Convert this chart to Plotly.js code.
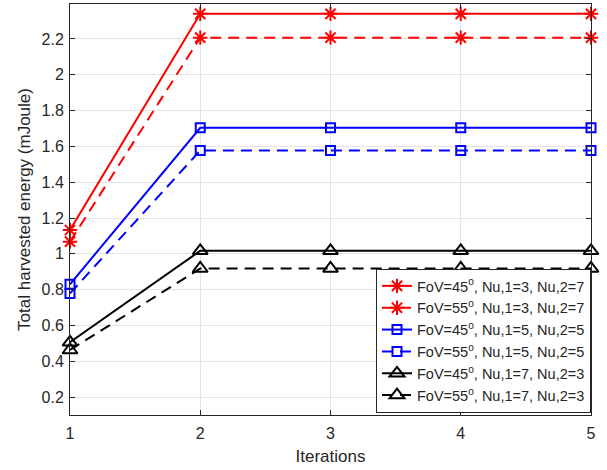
<!DOCTYPE html>
<html>
<head>
<meta charset="utf-8">
<script src="https://cdn.plot.ly/plotly-3.0.1.min.js"></script>
<style>html,body{margin:0;padding:0;background:#fff;}#chart{width:607px;height:470px;}</style>
</head>
<body>
<div id="chart"></div>
<script>
const iterations = [1, 2, 3, 4, 5];
const fov45_nu3_7 = [1.133, 2.34, 2.34, 2.34, 2.34];
const fov55_nu3_7 = [1.068, 2.207, 2.207, 2.207, 2.207];
const fov45_nu5_5 = [0.830, 1.704, 1.704, 1.704, 1.704];
const fov55_nu5_5 = [0.779, 1.577, 1.577, 1.577, 1.577];
const fov45_nu7_3 = [0.506, 1.017, 1.017, 1.017, 1.017];
const fov55_nu7_3 = [0.463, 0.918, 0.918, 0.918, 0.918];
const seriesNames = [
  'FoV=45<sup>o</sup>, Nu,1=3, Nu,2=7',
  'FoV=55<sup>o</sup>, Nu,1=3, Nu,2=7',
  'FoV=45<sup>o</sup>, Nu,1=5, Nu,2=5',
  'FoV=55<sup>o</sup>, Nu,1=5, Nu,2=5',
  'FoV=45<sup>o</sup>, Nu,1=7, Nu,2=3',
  'FoV=55<sup>o</sup>, Nu,1=7, Nu,2=3'
];
const yTicks = [0.2, 0.4, 0.6, 0.8, 1, 1.2, 1.4, 1.6, 1.8, 2, 2.2];
const yTickText = ['0.2','0.4','0.6','0.8','1','1.2','1.4','1.6','1.8','2','2.2'];

const seriesData = [fov45_nu3_7, fov55_nu3_7, fov45_nu5_5, fov55_nu5_5, fov45_nu7_3, fov55_nu7_3];
const colors = ['#ff0000','#ff0000','#0000ff','#0000ff','#000000','#000000'];
const dashes = ['solid','11px,7px','solid','11px,7px','solid','11px,7px'];
const symbols = ['asterisk-open','asterisk-open','square-open','square-open','triangle-up-open','triangle-up-open'];
const sizes = [12,12,9,9,13,13];

const traces = seriesData.map((ys, i) => ({
  x: iterations, y: ys, type: 'scatter', mode: 'lines+markers', name: seriesNames[i],
  line: {color: colors[i], width: 2, dash: dashes[i]},
  marker: {symbol: symbols[i], size: sizes[i], color: colors[i], line: {color: colors[i], width: 2}},
  cliponaxis: false
}));

const FONT = 'Liberation Sans, Arial, sans-serif';
const axisCommon = {
  showline: true, linecolor: '#262626', linewidth: 1, mirror: 'ticks',
  ticks: 'inside', ticklen: 5, tickcolor: '#262626',
  showgrid: true, gridcolor: '#e3e3e3', gridwidth: 1, zeroline: false,
  tickfont: {family: FONT, size: 16, color: '#262626'},
  automargin: false
};

const layout = {
  width: 607, height: 470,
  margin: {l: 70, r: 16, t: 4, b: 55},
  paper_bgcolor: '#fff', plot_bgcolor: '#fff',
  showlegend: true,
  font: {family: FONT},
  xaxis: Object.assign({}, axisCommon, {
    range: [1, 5], tickvals: iterations, ticktext: iterations.map(String),
    ticklabelstandoff: 4,
    title: {text: 'Iterations', font: {family: FONT, size: 17, color: '#262626'}, standoff: 8}
  }),
  yaxis: Object.assign({}, axisCommon, {
    range: [0.1, 2.395], tickvals: yTicks, ticktext: yTickText,
    ticklabelstandoff: 2,
    title: {text: 'Total harvested energy (mJoule)', font: {family: FONT, size: 17, color: '#262626'}, standoff: 6}
  }),
  legend: {
    x: 1, y: 0.005, xanchor: 'right', yanchor: 'bottom',
    bgcolor: '#fff', bordercolor: '#262626', borderwidth: 1,
    font: {family: FONT, size: 14.5, color: '#262626'},
    tracegroupgap: 0, itemwidth: 30
  }
};

Plotly.newPlot('chart', traces, layout, {displayModeBar: false, staticPlot: true});
</script>
</body>
</html>
